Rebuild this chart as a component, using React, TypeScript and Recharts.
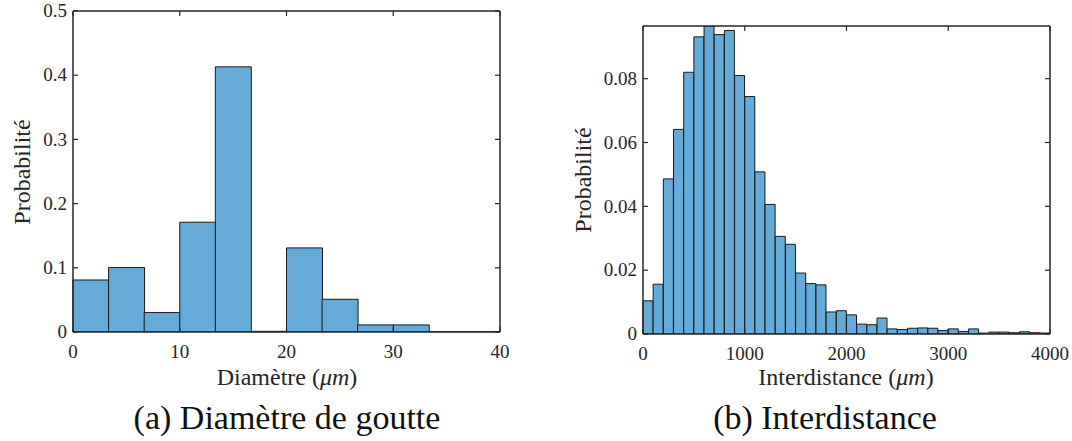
import React from "react";
import { BarChart, Bar, XAxis, YAxis } from "recharts";

// (a) droplet diameter histogram, bins of 40/12 µm
const diamBins = [0, 3.33, 6.67, 10, 13.33, 16.67, 20, 23.33, 26.67, 30, 33.33, 36.67];
const diamProb = [0.081, 0.1005, 0.0304, 0.171, 0.413, 0.001, 0.131, 0.051, 0.011, 0.011, 0.0005, 0.0005];
const diamXTicks = [0, 10, 20, 30, 40];
const diamYTicks = [0, 0.1, 0.2, 0.3, 0.4, 0.5];

// (b) interdistance histogram, bins of 100 µm
const interBins = [
  0, 100, 200, 300, 400, 500, 600, 700, 800, 900,
  1000, 1100, 1200, 1300, 1400, 1500, 1600, 1700, 1800, 1900,
  2000, 2100, 2200, 2300, 2400, 2500, 2600, 2700, 2800, 2900,
  3000, 3100, 3200, 3300, 3400, 3500, 3600, 3700, 3800, 3900,
];
const interProb = [
  0.0104, 0.0156, 0.0486, 0.0641, 0.082, 0.0931, 0.0965, 0.0938, 0.0951, 0.081,
  0.0744, 0.0508, 0.0406, 0.0306, 0.0281, 0.0191, 0.0158, 0.0154, 0.0069, 0.0073,
  0.006, 0.0031, 0.0029, 0.005, 0.0016, 0.0014, 0.0018, 0.0019, 0.0018, 0.0011,
  0.0016, 0.0008, 0.0016, 0.0003, 0.0006, 0.0006, 0.0004, 0.0007, 0.0004, 0.0003,
];
const interXTicks = [0, 1000, 2000, 3000, 4000];
const interYTicks = [0, 0.02, 0.04, 0.06, 0.08];

const ink = "#262626";
const serif = { fontFamily: "Liberation Serif, DejaVu Serif, serif" };
const barFill = "#66aad7";
const tickLen = 5;

type Side = "bottom" | "left" | "top" | "right";

const makeTick = (side: Side, fmt?: (v: number) => string) => (props: any) => {
  const { x, y, payload } = props;
  const v = payload.value;
  if (side === "bottom") {
    return (
      <g>
        <line x1={x} x2={x} y1={y} y2={y - tickLen} stroke={ink} strokeWidth={1.2} />
        <text x={x} y={y + 26} textAnchor="middle" fontSize={19} style={serif} fill={ink}>
          {fmt ? fmt(v) : v}
        </text>
      </g>
    );
  }
  if (side === "left") {
    return (
      <g>
        <line x1={x} x2={x + tickLen} y1={y} y2={y} stroke={ink} strokeWidth={1.2} />
        <text x={x - 6} y={y} dy="0.33em" textAnchor="end" fontSize={19} style={serif} fill={ink}>
          {fmt ? fmt(v) : v}
        </text>
      </g>
    );
  }
  if (side === "top") {
    return <line x1={x} x2={x} y1={y} y2={y + tickLen} stroke={ink} strokeWidth={1.2} />;
  }
  return <line x1={x} x2={x - tickLen} y1={y} y2={y} stroke={ink} strokeWidth={1.2} />;
};

const fmtY = (v: number) => (v === 0 ? "0" : String(v));

type HistProps = {
  bins: number[];
  probs: number[];
  xMax: number;
  yMax: number;
  xTicks: number[];
  yTicks: number[];
  width: number;
  yAxisWidth: number;
  margin: { top: number; right: number; bottom: number; left: number };
};

function Histogram(p: HistProps) {
  const data = p.bins.map((b, i) => ({ bin: b, prob: p.probs[i] }));
  const lineStyle = { stroke: ink, strokeWidth: 1.5 };
  return (
    <BarChart width={p.width} height={400} data={data} margin={p.margin} barCategoryGap={0} barGap={0}>
      <XAxis
        xAxisId="num"
        dataKey="bin"
        type="number"
        domain={[0, p.xMax]}
        allowDataOverflow
        ticks={p.xTicks}
        interval={0}
        height={60}
        tickSize={0}
        tickMargin={0}
        tickLine={false}
        axisLine={lineStyle}
        tick={makeTick("bottom")}
      />
      <XAxis xAxisId="cat" dataKey="bin" type="category" hide height={0} />
      <XAxis
        xAxisId="top"
        orientation="top"
        dataKey="bin"
        type="number"
        domain={[0, p.xMax]}
        allowDataOverflow
        ticks={p.xTicks}
        interval={0}
        height={1}
        tickSize={0}
        tickMargin={0}
        tickLine={false}
        axisLine={lineStyle}
        tick={makeTick("top")}
      />
      <YAxis
        yAxisId="left"
        type="number"
        domain={[0, p.yMax]}
        allowDataOverflow
        ticks={p.yTicks}
        interval={0}
        width={p.yAxisWidth}
        tickSize={0}
        tickMargin={0}
        tickLine={false}
        axisLine={lineStyle}
        tick={makeTick("left", fmtY)}
      />
      <YAxis
        yAxisId="right"
        orientation="right"
        type="number"
        domain={[0, p.yMax]}
        allowDataOverflow
        ticks={p.yTicks}
        interval={0}
        width={1}
        tickSize={0}
        tickMargin={0}
        tickLine={false}
        axisLine={lineStyle}
        tick={makeTick("right")}
      />
      <Bar
        xAxisId="cat"
        yAxisId="left"
        dataKey="prob"
        fill={barFill}
        stroke="#1a1a1a"
        strokeWidth={1}
        minPointSize={0}
        isAnimationActive={false}
      />
    </BarChart>
  );
}

const Title = ({ x, y, rotate, size, color, children }: any) => (
  <text
    x={x}
    y={y}
    transform={rotate ? `rotate(-90, ${x}, ${y})` : undefined}
    textAnchor="middle"
    fontSize={size}
    style={serif}
    fill={color || ink}
  >
    {children}
  </text>
);

export default function App() {
  return (
    <div style={{ position: "absolute", left: 0, top: 0, width: 1072, height: 441, background: "#fff" }}>
      <div style={{ position: "absolute", left: 0, top: 0 }}>
        <Histogram
          bins={diamBins}
          probs={diamProb}
          xMax={40}
          yMax={0.5}
          xTicks={diamXTicks}
          yTicks={diamYTicks}
          width={520}
          yAxisWidth={60}
          margin={{ top: 10, right: 19, bottom: 8, left: 13 }}
        />
      </div>
      <div style={{ position: "absolute", left: 560, top: 0 }}>
        <Histogram
          bins={interBins}
          probs={interProb}
          xMax={4000}
          yMax={0.0965}
          xTicks={interXTicks}
          yTicks={interYTicks}
          width={512}
          yAxisWidth={70}
          margin={{ top: 25, right: 21, bottom: 6, left: 13 }}
        />
      </div>
      <svg
        width={1072}
        height={441}
        style={{ position: "absolute", left: 0, top: 0, pointerEvents: "none" }}
      >
        <Title x={287} y={385} size={24}>
          Diamètre (<tspan fontStyle="italic">μm</tspan>)
        </Title>
        <Title x={846} y={385} size={24}>
          Interdistance (<tspan fontStyle="italic">μm</tspan>)
        </Title>
        <Title x={30} y={172} size={24} rotate>
          Probabilité
        </Title>
        <Title x={591} y={180} size={24} rotate>
          Probabilité
        </Title>
        <Title x={287} y={429} size={34} color="#111">
          (a) Diamètre de goutte
        </Title>
        <Title x={825} y={429} size={34} color="#111">
          (b) Interdistance
        </Title>
      </svg>
    </div>
  );
}
